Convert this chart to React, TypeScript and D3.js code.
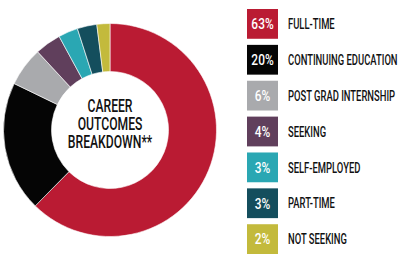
import React from "react";
import * as d3 from "d3";

const categories = ["FULL-TIME", "CONTINUING EDUCATION", "POST GRAD INTERNSHIP", "SEEKING", "SELF-EMPLOYED", "PART-TIME", "NOT SEEKING"];
const values = [63, 20, 6, 4, 3, 3, 2];
const colors = ["#BA1B33", "#050505", "#A9AAAD", "#603F5C", "#2AA7B3", "#144E5D", "#C3BA3C"];
const centerLines = ["CAREER", "OUTCOMES", "BREAKDOWN**"];

const W = 407, H = 254;
const cx = 110, cy = 130, R = 106.5, r = 58.5;
const FONT = "Roboto, 'Noto Sans', sans-serif";
const SX = 0.65;

export default function App() {
  const pie = d3.pie<number>().sort(null).value((d) => d);
  const arcs = pie(values);
  const arc = d3.arc<d3.PieArcDatum<number>>().innerRadius(r).outerRadius(R);
  const y = d3.scaleBand<number>().domain(d3.range(values.length)).range([9, 254]).paddingInner(0.17).paddingOuter(0);
  return (
    <svg width={W} height={H} style={{ position: "absolute", left: 0, top: 0, background: "#fff" }}>
      <g transform={`translate(${cx},${cy})`}>
        {arcs.map((a, i) => (
          <path key={i} d={arc(a) || ""} fill={colors[i]} stroke="#fff" strokeWidth={0.6} />
        ))}
        <text transform="scale(0.64,1)" textAnchor="middle" fontFamily={FONT} fontWeight={500} fontSize={19} fill="#111">
          {centerLines.map((t, i) => (
            <tspan key={t} x={0} y={-18 + i * 18}>{t}</tspan>
          ))}
        </text>
      </g>
      {values.map((v, i) => {
        const top = y(i) as number;
        const h = y.bandwidth();
        return (
          <g key={i}>
            <rect x={247} y={top} width={31} height={h} fill={colors[i]} />
            <text transform={`translate(262.5,${top + h / 2 + 0.5}) scale(0.85,1)`} textAnchor="middle" dominantBaseline="central"
              fontFamily={FONT} fontWeight={500} fontSize={14} fill="#fff">{v}%</text>
            <text transform={`translate(288,${top + h / 2 + 0.5}) scale(${SX},1)`} dominantBaseline="central"
              fontFamily={FONT} fontWeight={500} fontSize={14.5} fill="#111">{categories[i]}</text>
          </g>
        );
      })}
    </svg>
  );
}
